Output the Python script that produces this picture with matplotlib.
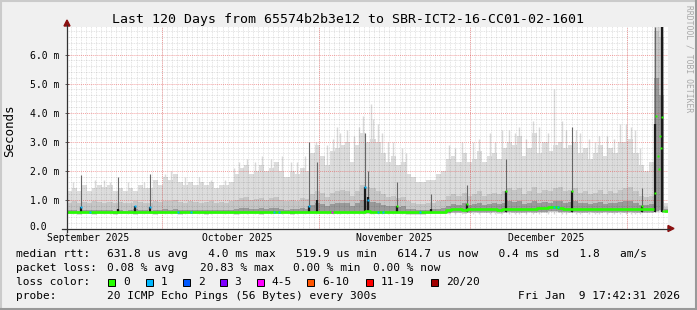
import matplotlib
matplotlib.use("Agg")
import matplotlib.pyplot as plt
import matplotlib.dates as mdates
from matplotlib.patches import Rectangle, Polygon
from matplotlib.lines import Line2D
import numpy as np
from datetime import datetime

# --- DATA (ms), one bucket per day starting at the left edge of the graph ---
start = datetime(2025, 9, 12, 6, 0)

smoke_top = [
    1.3, 1.4, 1.3, 1.5, 1.3, 1.4, 1.5, 1.45, 1.5, 1.3,
    1.4, 1.3, 1.4, 1.3, 1.5, 1.4, 1.4, 1.7, 1.5, 1.8,
    1.7, 1.9, 1.6, 1.5, 1.6, 1.5, 1.6, 1.5, 1.6, 1.4,
    1.5, 1.5, 1.6, 1.9, 2.1, 2.2, 1.9, 2.0, 2.2, 2.0,
    2.1, 2.3, 2.0, 1.8, 2.0, 1.9, 2.1, 2.0, 2.6, 2.9,
    2.5, 2.2, 2.7, 2.8, 2.9, 3.0, 2.3, 2.9, 3.3, 3.0,
    3.1, 3.0, 2.6, 2.3, 2.5, 2.2, 2.3, 1.9, 1.8, 1.6,
    1.6, 1.7, 1.7, 1.9, 2.0, 2.4, 2.5, 2.3, 2.6, 2.3,
    2.4, 2.7, 2.3, 2.5, 2.6, 2.4, 2.8, 3.0, 2.9, 3.2,
    2.5, 2.8, 3.3, 2.6, 3.0, 2.7, 2.9, 3.0, 2.8, 2.9,
    3.0, 2.6, 2.8, 2.4, 2.6, 2.9, 2.5, 2.8, 2.6, 3.0,
    3.0, 3.1, 2.6, 2.2, 2.0, 2.3, 6.95, 6.95, 0.9,
]
smoke_p90 = [
    0.90, 0.95, 0.88, 0.92, 0.90, 0.95, 0.92, 0.90, 0.93, 0.88,
    0.92, 0.88, 0.90, 0.95, 0.92, 0.90, 0.88, 0.95, 0.92, 0.98,
    0.95, 1.00, 0.92, 0.90, 0.95, 0.92, 0.90, 0.93, 0.95, 0.90,
    0.92, 0.90, 0.95, 1.00, 1.05, 1.10, 1.00, 1.02, 1.08, 1.00,
    1.05, 1.10, 1.00, 0.95, 1.00, 0.98, 1.05, 1.02, 1.20, 1.30,
    1.25, 1.10, 1.25, 1.30, 1.35, 1.30, 1.15, 1.30, 1.50, 1.45,
    1.40, 1.30, 1.20, 1.10, 1.15, 1.05, 1.10, 0.95, 0.90, 0.85,
    0.85, 0.88, 0.90, 0.95, 1.00, 1.15, 1.20, 1.15, 1.25, 1.15,
    1.20, 1.30, 1.15, 1.20, 1.25, 1.20, 1.30, 1.40, 1.35, 1.40,
    1.20, 1.30, 1.45, 1.25, 1.35, 1.30, 1.40, 1.45, 1.30, 1.35,
    1.40, 1.25, 1.30, 1.20, 1.25, 1.35, 1.20, 1.30, 1.25, 1.35,
    1.40, 1.45, 1.30, 1.15, 1.10, 1.15, 6.80, 6.60, 0.75,
]
smoke_p75 = [
    0.64, 0.66, 0.63, 0.66, 0.64, 0.66, 0.65, 0.64, 0.66, 0.63,
    0.66, 0.63, 0.64, 0.68, 0.66, 0.64, 0.63, 0.67, 0.66, 0.68,
    0.66, 0.69, 0.65, 0.64, 0.66, 0.65, 0.64, 0.66, 0.67, 0.64,
    0.65, 0.64, 0.66, 0.69, 0.71, 0.73, 0.69, 0.70, 0.72, 0.69,
    0.71, 0.73, 0.69, 0.67, 0.69, 0.68, 0.71, 0.70, 0.82, 0.88,
    0.85, 0.78, 0.85, 0.88, 0.90, 0.88, 0.80, 0.88, 1.00, 0.95,
    0.92, 0.88, 0.82, 0.78, 0.80, 0.75, 0.78, 0.70, 0.68, 0.66,
    0.66, 0.67, 0.68, 0.70, 0.72, 0.80, 0.85, 0.82, 0.88, 0.83,
    0.86, 0.90, 0.83, 0.86, 0.88, 0.85, 0.90, 0.95, 0.92, 0.95,
    0.86, 0.90, 0.98, 0.88, 0.93, 0.90, 0.95, 0.98, 0.90, 0.92,
    0.95, 0.88, 0.90, 0.85, 0.88, 0.92, 0.85, 0.90, 0.88, 0.92,
    0.95, 0.98, 0.90, 0.84, 0.82, 0.85, 5.20, 4.60, 0.68,
]
smoke_low = [
    0.50, 0.50, 0.49, 0.50, 0.50, 0.49, 0.50, 0.50, 0.50, 0.49,
    0.50, 0.50, 0.50, 0.49, 0.50, 0.50, 0.50, 0.49, 0.50, 0.50,
    0.50, 0.50, 0.49, 0.50, 0.50, 0.50, 0.50, 0.49, 0.50, 0.50,
    0.50, 0.50, 0.50, 0.49, 0.50, 0.50, 0.50, 0.50, 0.49, 0.50,
    0.50, 0.50, 0.50, 0.50, 0.49, 0.50, 0.50, 0.50, 0.50, 0.50,
    0.51, 0.50, 0.50, 0.50, 0.51, 0.50, 0.50, 0.50, 0.51, 0.51,
    0.51, 0.50, 0.50, 0.50, 0.50, 0.50, 0.50, 0.49, 0.49, 0.49,
    0.49, 0.50, 0.50, 0.50, 0.51, 0.52, 0.54, 0.54, 0.53, 0.54,
    0.55, 0.54, 0.54, 0.54, 0.55, 0.53, 0.54, 0.55, 0.54, 0.54,
    0.54, 0.55, 0.54, 0.55, 0.56, 0.57, 0.58, 0.56, 0.55, 0.54,
    0.55, 0.54, 0.54, 0.55, 0.54, 0.54, 0.55, 0.54, 0.54, 0.55,
    0.54, 0.55, 0.54, 0.54, 0.54, 0.54, 0.58, 0.60, 0.55,
]
median = [
    0.58, 0.58, 0.59, 0.58, 0.58, 0.57, 0.58, 0.58, 0.59, 0.58,
    0.58, 0.58, 0.58, 0.59, 0.58, 0.58, 0.58, 0.59, 0.58, 0.58,
    0.58, 0.59, 0.58, 0.58, 0.58, 0.57, 0.58, 0.58, 0.58, 0.58,
    0.58, 0.58, 0.59, 0.58, 0.59, 0.59, 0.58, 0.58, 0.59, 0.58,
    0.58, 0.59, 0.58, 0.58, 0.58, 0.58, 0.59, 0.58, 0.59, 0.59,
    0.60, 0.58, 0.59, 0.60, 0.59, 0.59, 0.58, 0.59, 0.60, 0.61,
    0.60, 0.59, 0.59, 0.58, 0.59, 0.58, 0.58, 0.58, 0.57, 0.57,
    0.57, 0.58, 0.58, 0.58, 0.60, 0.64, 0.68, 0.69, 0.67, 0.68,
    0.70, 0.68, 0.69, 0.68, 0.70, 0.67, 0.69, 0.70, 0.68, 0.69,
    0.68, 0.70, 0.69, 0.71, 0.72, 0.74, 0.76, 0.73, 0.70, 0.69,
    0.70, 0.68, 0.69, 0.70, 0.68, 0.69, 0.70, 0.68, 0.69, 0.70,
    0.69, 0.70, 0.68, 0.69, 0.68, 0.69, np.nan, np.nan, 0.63,
]

# thin light-grey smoke peaks (day index, max ms)
peak_x = [1.2, 5.5, 7.3, 8.6, 12.1, 15.3, 19.4, 20.6, 23.3, 26.0, 28.5, 31.2, 33.0, 34.0, 35.6,
          37.2, 38.5, 40.3, 42.6, 44.3, 45.5, 47.1, 49.2, 51.5, 52.6, 53.4, 54.0, 55.4, 56.7,
          57.8, 58.6, 60.1, 60.5, 61.4, 62.3, 63.5, 64.5, 66.2, 67.0, 75.5, 76.8, 78.1, 80.3,
          81.5, 83.6, 84.7, 86.0, 87.3, 88.5, 89.4, 90.8, 92.1, 93.4, 95.1, 96.3, 97.8, 98.6,
          100.6, 101.5, 103.3, 104.4, 105.2, 106.7, 108.2, 109.4, 110.6, 111.5, 112.3, 113.2]
peak_top = [1.6, 1.7, 1.7, 1.6, 1.6, 1.6, 1.9, 2.0, 1.8, 1.8, 1.7, 1.7, 2.1, 2.3, 2.4,
            2.3, 2.5, 2.4, 2.5, 2.3, 2.3, 2.5, 3.0, 2.9, 3.1, 3.5, 3.3, 3.4, 3.2,
            3.5, 3.9, 4.3, 3.8, 3.6, 3.3, 3.0, 3.0, 2.8, 2.6, 2.9, 2.8, 3.0, 3.0,
            3.1, 3.3, 3.0, 3.4, 3.4, 3.3, 3.5, 3.1, 3.7, 3.5, 3.3, 4.8, 3.7, 3.4,
            3.4, 3.3, 3.1, 3.0, 3.2, 3.2, 3.1, 3.6, 3.6, 3.5, 3.4, 2.8]

# dark single-sample spikes (day index, dark top ms, thin line top ms)
spike_x = [2.85, 10.0, 13.4, 16.5, 47.8, 49.4, 59.0, 59.5, 65.2, 71.9, 79.0, 86.8, 99.9, 113.6, 116.3, 117.6]
spike_dark = [0.75, 0.70, 0.80, 0.75, 0.80, 1.00, 1.45, 1.10, 0.80, 0.70, 0.85, 1.30, 1.30, 0.80, 3.60, 6.95]
spike_line = [1.85, 1.80, 0.80, 1.90, 3.00, 2.30, 3.30, 2.00, 1.60, 1.20, 1.50, 2.40, 3.50, 1.40, 6.95, 6.95]

# median samples coloured by loss (day index, ms, loss class)
dot_x = [2.85, 4.5, 13.4, 16.5, 22.0, 24.5, 41.0, 42.0, 47.8, 52.3, 59.0, 59.5, 61.5, 62.5, 69.8, 96.3, 97.0,
         65.2, 79.0, 86.8, 99.9, 113.6, 116.2, 116.4, 116.8, 117.0, 117.3, 117.5, 117.7, 117.9]
dot_y = [0.75, 0.58, 0.80, 0.75, 0.58, 0.58, 0.58, 0.58, 0.78, 0.58, 1.45, 1.00, 0.58, 0.58, 0.58, 0.74, 0.76,
         0.80, 0.85, 1.30, 1.30, 0.80, 1.24, 3.90, 2.50, 2.06, 3.20, 2.80, 3.85, 0.63]
dot_cls = [1, 1, 1, 1, 1, 1, 1, 1, 1, 4, 1, 1, 1, 1, 1, 1, 1,
           0, 0, 0, 0, 0, 0, 0, 0, 0, 0, 0, 0, 0]

loss_labels = ['0', '1', '2', '3', '4-5', '6-10', '11-19', '20/20']
loss_colors = ['#26FF00', '#00B8FF', '#0059FF', '#7E00FF', '#FF00FF', '#FF5500', '#FF0000', '#A10000']

month_labels = ['September 2025', 'October 2025', 'November 2025', 'December 2025']
month_label_dates = [datetime(2025, 9, 16, 12), datetime(2025, 10, 16), datetime(2025, 11, 16), datetime(2025, 12, 16)]
month_starts = [datetime(2025, 10, 1), datetime(2025, 11, 1), datetime(2025, 12, 1), datetime(2026, 1, 1)]
y_ticks = [0, 1, 2, 3, 4, 5, 6]
y_labels = ['', '1.0 m', '2.0 m', '3.0 m', '4.0 m', '5.0 m', '6.0 m']

assert len(smoke_top) == len(smoke_p90) == len(smoke_p75) == len(smoke_low) == len(median)
assert len(peak_x) == len(peak_top)

# --- LAYOUT ---
W, H = 697, 310
MONO = 'DejaVu Sans Mono'


def fx(px):
    return px / W


def fy(py):
    return 1 - py / H


fig = plt.figure(figsize=(W / 100, H / 100), dpi=100)
fig.patch.set_facecolor('#F0F0F0')
ax = fig.add_axes([fx(67), fy(229), fx(668) - fx(67), fy(27) - fy(229)])
ax.set_facecolor('#FFFFFF')

t0 = mdates.date2num(start)
n = len(smoke_top)
edges = t0 + np.arange(n + 1)
left = edges[:-1]
top = np.array(smoke_top)
p90 = np.array(smoke_p90)
p75 = np.array(smoke_p75)
low = np.array(smoke_low)
med = np.array(median)

# smoke layers
ax.bar(left, top - low, bottom=low, width=1, align='edge', color='#DDDDDD', lw=0, zorder=1)
ax.vlines(t0 + np.array(peak_x), 0.5, peak_top, color='#D9D9D9', lw=1.0, zorder=1)
ax.bar(left, p90 - low - 0.02, bottom=low + 0.02, width=1, align='edge', color='#C6C6C6', lw=0, zorder=2)
ax.bar(left, p75 - low - 0.04, bottom=low + 0.04, width=1, align='edge', color='#9A9A9A', lw=0, zorder=2)

# grid on top of smoke
days = mdates.date2num([datetime(2025, 9, 13)]) + np.arange(0, 119)
ax.vlines(days, 0, 7, colors=(0, 0, 0, 0.14), lw=0.6, linestyles=(0, (1, 1)), zorder=3)
for v in np.arange(0.2, 6.95, 0.2):
    if abs(v - round(v)) > 0.05:
        ax.axhline(v, color=(0, 0, 0, 0.14), lw=0.6, ls=(0, (1, 1)), zorder=3)
for v in y_ticks[1:]:
    ax.axhline(v, color=(0.9, 0.2, 0.2, 0.45), lw=0.7, ls=(0, (1, 1)), zorder=3)
for d in month_starts:
    ax.axvline(mdates.date2num(d), color=(0.9, 0.2, 0.2, 0.45), lw=0.7, ls=(0, (1, 1)), zorder=3)

# spikes
sx = t0 + np.array(spike_x)
ax.vlines(sx, 0.6, spike_line, color='#666666', lw=0.8, zorder=4)
ax.vlines(sx, 0.6, spike_dark, color='#1A1A1A', lw=1.6, zorder=4)

# median line
xs = np.repeat(edges, 2)[1:-1]
ys = np.repeat(med, 2)
ax.plot(xs, ys, color=loss_colors[0], lw=1.9, zorder=6, solid_capstyle='butt')
for x, y, c in zip(dot_x, dot_y, dot_cls):
    ax.plot(t0 + x, y, 's', ms=2.0, color=loss_colors[c], mec='none', zorder=7)

ax.set_xlim(t0, t0 + 601 / 5.058)
ax.set_ylim(0, 6.95)
for s in ax.spines.values():
    s.set_visible(False)
ax.set_yticks(y_ticks)
ax.set_yticklabels(y_labels, fontfamily=MONO, fontsize=7)
ax.tick_params(axis='y', length=3, width=0.6, color='#444444', direction='inout', pad=4)
ax.set_xticks(mdates.date2num(month_label_dates))
ax.set_xticklabels(month_labels, fontfamily=MONO, fontsize=7)
ax.tick_params(axis='x', length=0, pad=3.2)
# zero label sits further left, as rrdtool pads it like the "x.x m" labels
fig.text(fx(47), fy(227.5), '0.0', ha='right', va='center', fontfamily=MONO, fontsize=7)

# axes with arrows
fig.add_artist(Line2D([fx(62), fx(669)], [fy(228.6), fy(228.6)], color='#333333', lw=0.9))
fig.add_artist(Line2D([fx(67), fx(67)], [fy(232), fy(25)], color='#333333', lw=0.9))
fig.add_artist(Polygon([[fx(668), fy(225.5)], [fx(668), fy(231.5)], [fx(674), fy(228.5)]],
                       closed=True, color='#8B1010', transform=fig.transFigure))
fig.add_artist(Polygon([[fx(64), fy(26)], [fx(70), fy(26)], [fx(67), fy(20)]],
                       closed=True, color='#8B1010', transform=fig.transFigure))

# texts
fig.text(fx(348), fy(19), 'Last 120 Days from 65574b2b3e12 to SBR-ICT2-16-CC01-02-1601',
         ha='center', va='center', fontfamily=MONO, fontsize=9.5)
fig.text(fx(10), fy(131), 'Seconds', rotation=90, ha='center', va='center', fontfamily=MONO, fontsize=9)
fig.text(fx(689), fy(59), 'RRDTOOL / TOBI OETIKER', rotation=270, ha='center', va='center',
         fontfamily=MONO, fontsize=5.8, color='#A8A8A8')

fs = 8
fig.text(fx(16), fy(254), 'median rtt:', va='center', fontfamily=MONO, fontsize=fs)
fig.text(fx(107), fy(254), '631.8 us avg   4.0 ms max   519.9 us min   614.7 us now   0.4 ms sd   1.8   am/s',
         va='center', fontfamily=MONO, fontsize=fs)
fig.text(fx(16), fy(268), 'packet loss:', va='center', fontfamily=MONO, fontsize=fs)
for px, s in zip([107, 200, 293, 373], ['0.08 % avg', '20.83 % max', '0.00 % min', '0.00 % now']):
    fig.text(fx(px), fy(268), s, va='center', fontfamily=MONO, fontsize=fs)
fig.text(fx(16), fy(282), 'loss color:', va='center', fontfamily=MONO, fontsize=fs)
box_x = [108, 145.7, 182.7, 219.7, 256.7, 307.3, 365.7, 431]
for bx, lab, col in zip(box_x, loss_labels, loss_colors):
    fig.add_artist(Rectangle((fx(bx), fy(285.5)), 7 / W, 7 / H, facecolor=col, edgecolor='black',
                             lw=0.7, transform=fig.transFigure))
    fig.text(fx(bx + 15), fy(282), lab, va='center', fontfamily=MONO, fontsize=fs)
fig.text(fx(16), fy(296), 'probe:', va='center', fontfamily=MONO, fontsize=fs)
fig.text(fx(107), fy(296), '20 ICMP Echo Pings (56 Bytes) every 300s', va='center', fontfamily=MONO, fontsize=fs)
fig.text(fx(680), fy(296), 'Fri Jan  9 17:42:31 2026', ha='right', va='center', fontfamily=MONO, fontsize=fs)

# 3d-ish frame
fig.add_artist(Line2D([0, 1], [fy(1), fy(1)], color='#CBCBCB', lw=1.5))
fig.add_artist(Line2D([fx(1), fx(1)], [0, 1], color='#CBCBCB', lw=1.5))
fig.add_artist(Line2D([0, 1], [fy(309), fy(309)], color='#999999', lw=1.5))
fig.add_artist(Line2D([fx(696), fx(696)], [0, 1], color='#999999', lw=1.5))

fig.savefig('out.png', dpi=100, facecolor=fig.get_facecolor())
